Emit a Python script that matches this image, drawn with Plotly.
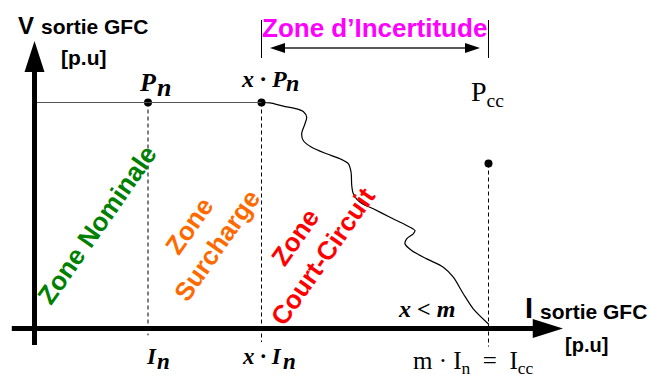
import plotly.graph_objects as go

# Axis units: current in multiples of I_n, voltage in p.u. of P_n
I_N = 1.0          # nominal current
X_FACTOR = 2.0     # overload factor x
M_FACTOR = 4.0     # short-circuit factor m
P_N = 1.0          # nominal point
P_CC = 0.73        # short-circuit point

# Limiting characteristic after x*Pn
curve_i = [2.004, 2.075, 2.192, 2.310, 2.368, 2.398, 2.383, 2.354, 2.368, 2.442,
           2.574, 2.692, 2.765, 2.789, 2.795, 2.809, 2.868, 2.985, 3.132, 3.279,
           3.352, 3.337, 3.279, 3.264, 3.323, 3.456, 3.602, 3.690, 3.778, 3.866, 4.004]
curve_v = [1.000, 0.998, 0.984, 0.972, 0.960, 0.935, 0.906, 0.862, 0.832, 0.802,
           0.773, 0.751, 0.729, 0.692, 0.633, 0.596, 0.559, 0.530, 0.492, 0.456,
           0.434, 0.419, 0.397, 0.375, 0.345, 0.308, 0.271, 0.227, 0.154, 0.087, 0.018]

dot_i = [I_N, X_FACTOR * I_N, M_FACTOR * I_N]
dot_v = [P_N, P_N, P_CC]

SANS = "Liberation Sans, Arial, sans-serif"
SERIF = "Liberation Serif, Times New Roman, serif"

fig = go.Figure()

# curve
fig.add_trace(go.Scatter(x=curve_i, y=curve_v, mode="lines",
                         line=dict(color="black", width=1.2, shape="spline", smoothing=0.8),
                         hoverinfo="skip"))
# points
fig.add_trace(go.Scatter(x=dot_i, y=dot_v, mode="markers",
                         marker=dict(color="black", size=8), hoverinfo="skip"))


def tri(p1, p2, p3):
    return f"M {p1[0]} {p1[1]} L {p2[0]} {p2[1]} L {p3[0]} {p3[1]} Z"


shapes = []
# nominal level
shapes.append(dict(type="line", x0=0, x1=X_FACTOR * I_N, y0=P_N, y1=P_N,
                   line=dict(color="#555555", width=1.2)))
# dashed guides
for xi, yt, yb in [(I_N, P_N, -0.03), (X_FACTOR * I_N, P_N, -0.06), (M_FACTOR * I_N, P_CC, -0.08)]:
    shapes.append(dict(type="line", x0=xi, x1=xi, y0=yt, y1=yb,
                       line=dict(color="black", width=1, dash="4px,3px")))
# main axes
shapes.append(dict(type="line", x0=-0.2, x1=4.42, y0=0, y1=0, line=dict(color="black", width=5)))
shapes.append(dict(type="line", x0=0, x1=0, y0=-0.073, y1=1.14, line=dict(color="black", width=5)))
shapes.append(dict(type="path", path=tri((4.39, 0.042), (4.656, 0), (4.39, -0.042)),
                   fillcolor="black", line=dict(width=0)))
shapes.append(dict(type="path", path=tri((-0.088, 1.135), (0, 1.272), (0.088, 1.135)),
                   fillcolor="black", line=dict(width=0)))
# uncertainty bracket
for xi in [X_FACTOR * I_N, M_FACTOR * I_N]:
    shapes.append(dict(type="line", x0=xi, x1=xi, y0=1.197, y1=1.365,
                       line=dict(color="black", width=1)))
shapes.append(dict(type="line", x0=2.15, x1=3.85, y0=1.241, y1=1.241,
                   line=dict(color="#222222", width=1.5)))
shapes.append(dict(type="path", path=tri((2.207, 1.263), (2.075, 1.241), (2.207, 1.219)),
                   fillcolor="black", line=dict(width=0)))
shapes.append(dict(type="path", path=tri((3.793, 1.263), (3.925, 1.241), (3.793, 1.219)),
                   fillcolor="black", line=dict(width=0)))

ann = []


def paper_text(txt, px, py, size, color="black", family=SANS, angle=0):
    ann.append(dict(text=txt, x=px / 650, y=1 - py / 378, xref="paper", yref="paper",
                    showarrow=False, xanchor="center", yanchor="middle", textangle=angle,
                    font=dict(family=family, size=size, color=color)))


def data_text(txt, x, y, dx, dy, size, family=SERIF):
    ann.append(dict(text=txt, x=x, y=y, xref="x", yref="y", xshift=dx, yshift=dy,
                    showarrow=False, xanchor="center", yanchor="middle",
                    font=dict(family=family, size=size, color="black")))


# axis titles
paper_text("<b>V</b>", 26, 25, 24)
paper_text("<b>sortie GFC</b>", 94.5, 26, 21)
paper_text("<b>[p.u]</b>", 83.5, 57, 21)
paper_text("<b>I</b>", 529, 308, 29)
paper_text("<b>sortie GFC</b>", 593, 311, 21)
paper_text("<b>[p.u]</b>", 586.5, 345, 20)

# zones
paper_text("<b>Zone d\u2019Incertitude</b>", 374, 28, 26, color="#FF00FF")
paper_text("<b>Zone Nominale</b>", 97, 225, 26, color="#008000", angle=-55)
paper_text("<b>Zone<br>Surcharge</b>", 203, 236, 26, color="#FF6A00", angle=-55)
paper_text("<b>Zone<br>Court-Circuit</b>", 309, 247, 26, color="#FF0000", angle=-55)

# point labels
data_text("<b><i>P</i></b>", I_N, P_N, -0.5, 20, 26)
data_text("<b><i>n</i></b>", I_N, P_N, 16, 15, 26)
data_text("<b><i>x \u00b7 P</i></b>", X_FACTOR * I_N, P_N, 2.5, 23.5, 24)
data_text("<b><i>n</i></b>", X_FACTOR * I_N, P_N, 31, 19.5, 24)
data_text("<b><i>I</i></b>", I_N, 0, 3.5, -28, 23)
data_text("<b><i>n</i></b>", I_N, 0, 15.5, -33, 23)
data_text("<b><i>x \u00b7 I</i></b>", X_FACTOR * I_N, 0, 0.5, -28, 23)
data_text("<b><i>n</i></b>", X_FACTOR * I_N, 0, 27.5, -33, 23)
data_text("<b><i>x &lt; m</i></b>", M_FACTOR * I_N, 0, -61.5, 20, 24)
data_text("P<sub>cc</sub>", M_FACTOR * I_N, P_CC, -1, 70.5, 28)
data_text("m \u00b7 I<sub>n</sub>\u00a0 = \u00a0I<sub>cc</sub>", M_FACTOR * I_N, 0, -14.5, -34, 25)

fig.update_layout(
    width=650, height=378,
    margin=dict(l=0, r=0, t=0, b=0),
    paper_bgcolor="white", plot_bgcolor="white",
    showlegend=False,
    xaxis=dict(range=[-0.304, 5.423], visible=False, fixedrange=True),
    yaxis=dict(range=[-0.219, 1.4535], visible=False, fixedrange=True),
    shapes=shapes, annotations=ann,
)

# the page body has a default 8px margin; drop it so the figure fills the window
fig.write_html("out.html", config={"displayModeBar": False},
               post_script="document.body.style.margin='0px';")
